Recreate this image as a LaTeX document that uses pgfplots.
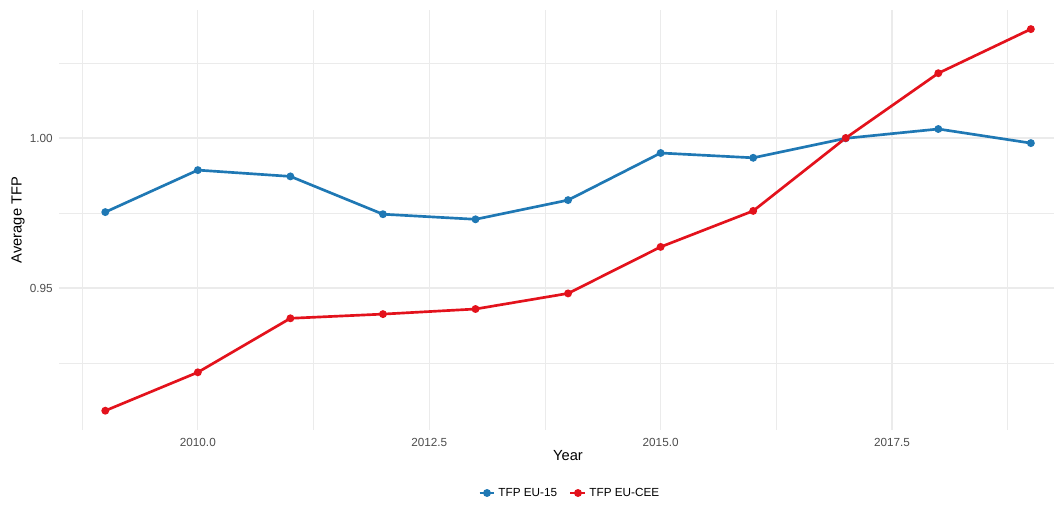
\documentclass[border=0pt]{standalone}
\usepackage{pgfplots}
\pgfplotsset{compat=1.18}
\usepackage{fontspec}
\setmainfont{Liberation Sans}
\definecolor{tfpblue}{HTML}{1F78B4}
\definecolor{tfpred}{HTML}{E3121C}
\definecolor{gridc}{HTML}{EBEBEB}
\definecolor{ticklab}{HTML}{4D4D4D}
\begin{document}
\begin{tikzpicture}
\path[use as bounding box] (0,0) rectangle (790.5pt,378pt);
\begin{axis}[
  at={(44.25pt,55.5pt)}, anchor=south west,
  scale only axis, width=746.25pt, height=315pt,
  xmin=2008.5, xmax=2019.25, ymin=0.90267, ymax=1.04267,
  clip=false,
  axis line style={draw=none}, major tick length=0pt, minor tick length=0pt,
  xtick={2010,2012.5,2015,2017.5},
  xticklabels={2010.0,2012.5,2015.0,2017.5},
  minor xtick={2008.75,2011.25,2013.75,2016.25,2018.75},
  ytick={0.95,1.00},
  yticklabels={0.95,1.00},
  minor ytick={0.925,0.975,1.025},
  grid=both,
  major grid style={draw=gridc, line width=0.8pt},
  minor grid style={draw=gridc, line width=0.45pt},
  xticklabel style={font=\fontsize{8.8}{10}\selectfont, text=ticklab, anchor=center, inner sep=0pt, yshift=-9pt},
  yticklabel style={font=\fontsize{8.8}{10}\selectfont, text=ticklab, anchor=east, inner sep=0pt, xshift=-4.5pt},
  xlabel={Year}, ylabel={Average TFP},
  xlabel style={font=\fontsize{11}{13}\selectfont, at={(axis description cs:0.5116,0)}, anchor=center, yshift=-19pt},
  ylabel style={font=\fontsize{11}{13}\selectfont, at={(axis description cs:0,0.5)}, anchor=center, yshift=30.75pt},
  legend columns=2,
  legend style={at={(0.5136,-0.15)}, anchor=center, draw=none, fill=none,
    font=\fontsize{8.8}{10}\selectfont, inner sep=0pt,
    /tikz/every even column/.append style={column sep=7pt}},
  legend image code/.code={\draw[#1, mark repeat=2, mark phase=2] plot coordinates {(0pt,0pt)(5.6pt,0pt)(11.2pt,0pt)};},
]
\addplot[tfpblue, line width=2pt, mark=*, mark size=1.9pt, mark options={solid}] coordinates {
(2009,0.9753) (2010,0.9893) (2011,0.9872) (2012,0.9746) (2013,0.9729) (2014,0.9793)
(2015,0.9950) (2016,0.9934) (2017,0.9999) (2018,1.0030) (2019,0.9983)};
\addlegendentry{TFP EU-15}
\addplot[tfpred, line width=2pt, mark=*, mark size=1.9pt, mark options={solid}] coordinates {
(2009,0.9091) (2010,0.9219) (2011,0.9399) (2012,0.9413) (2013,0.9430) (2014,0.9482)
(2015,0.9637) (2016,0.9757) (2017,1.0000) (2018,1.0216) (2019,1.0363)};
\addlegendentry{TFP EU-CEE}
\end{axis}
\end{tikzpicture}
\end{document}
